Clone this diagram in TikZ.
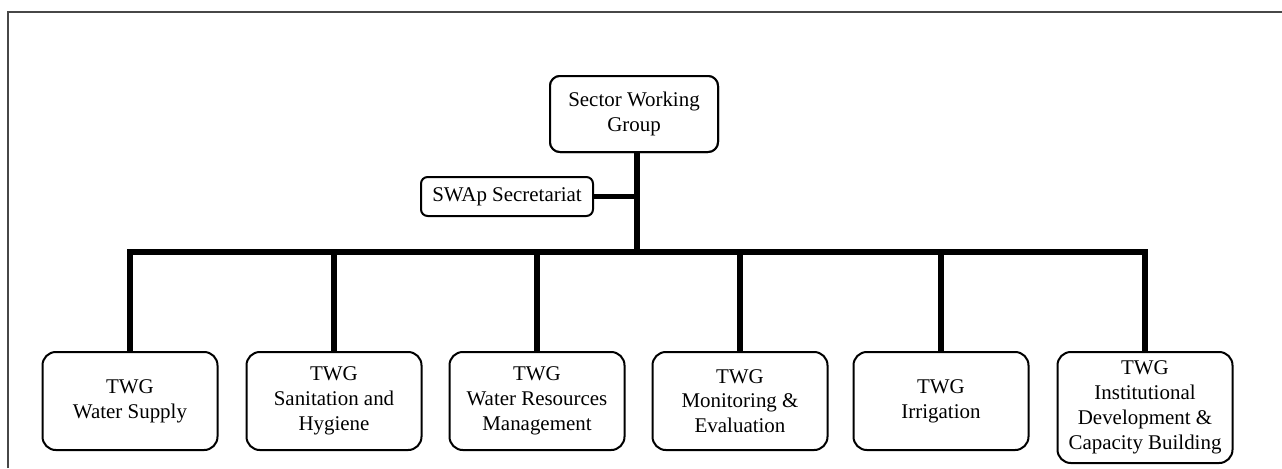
\documentclass[tikz,border=0pt]{standalone}
\usepackage{fontspec}
\setmainfont{Liberation Serif}
\begin{document}
\begin{tikzpicture}[x=0.75pt,y=-0.75pt,
  box/.style={draw=black, line width=1.5pt, fill=white, rounded corners=10pt,
    align=center, inner sep=0pt,
    font=\fontsize{15.7pt}{18.6pt}\selectfont},
  twg/.style={box, minimum width=131.25pt, minimum height=73.5pt},
  link/.style={line width=4pt, black, miter limit=10},
  frameline/.style={line width=1.5pt, draw=black!72}]
\useasboundingbox (0,0) rectangle (1282,468);

% outer frame (top and left edges)
\draw[frameline] (8,468) -- (8,12) -- (1282,12);

% head of the structure
\node[box, minimum width=126pt, minimum height=57pt, rounded corners=7.5pt]
  (swg) at (634,114) {Sector Working\\Group};
\node[box, minimum width=129pt, minimum height=29.25pt, rounded corners=5pt]
  (sec) at (507,196.5) {SWAp Secretariat};

% technical working groups
\node[twg] (b1) at (130,401) {TWG\\Water Supply};
\node[twg] (b2) at (334,401) {TWG\\Sanitation and\\Hygiene};
\node[twg] (b3) at (537,401) {TWG\\Water Resources\\Management};
\node[twg] (b4) at (740,401) {TWG\\Monitoring \&\\Evaluation};
\node[twg] (b5) at (941,401) {TWG\\Irrigation};
\node[twg, minimum height=83.25pt] (b6) at (1145,407.5)
  {TWG\\Institutional\\Development \&\\Capacity Building};

% connectors
\coordinate (bar) at (637,252);
\coordinate (trunk) at (637,152);
\draw[link] (trunk) -- (bar);
\draw[link] (sec.east) -- (sec.east -| bar);
\draw[link] (b1.north) -- (b1.north |- bar) -- (b6.north |- bar) -- (b6.north);
\foreach \b in {b2,b3,b4,b5}
  \draw[link] (\b.north |- bar) -- (\b.north);

% redraw the top box over the trunk's upper end
\node[box, minimum width=126pt, minimum height=57pt, rounded corners=7.5pt]
  at (swg) {Sector Working\\Group};
\end{tikzpicture}
\end{document}
